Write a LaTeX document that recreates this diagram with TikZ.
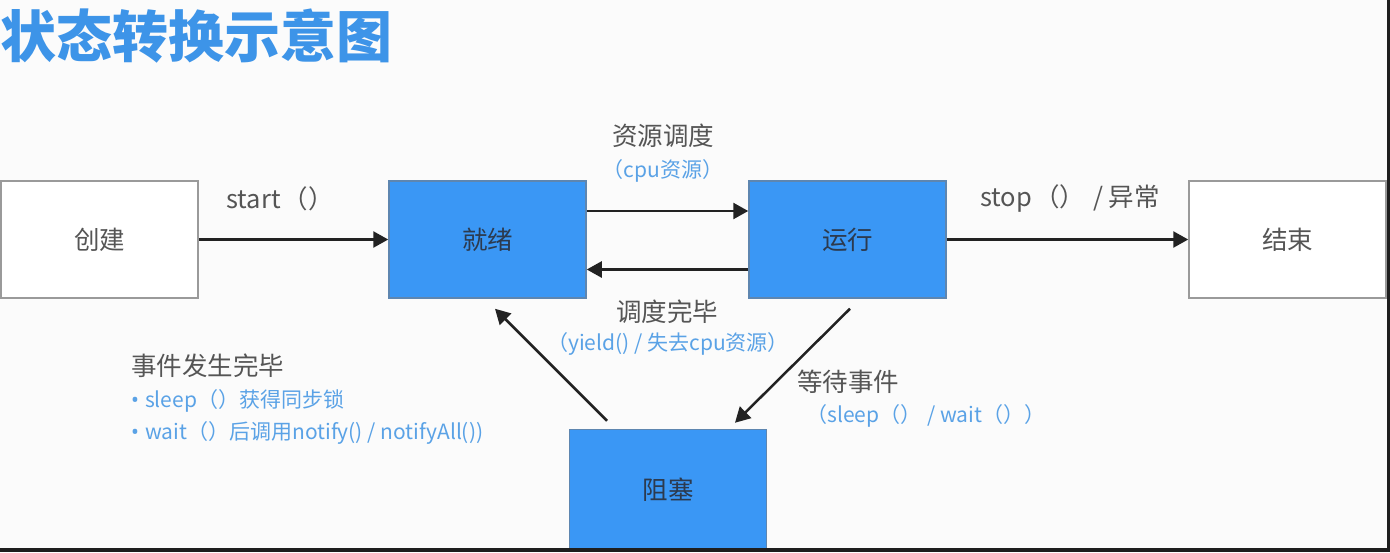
\documentclass[tikz,border=0pt]{standalone}
\usepackage{fontspec}
\setmainfont{Noto Sans CJK SC}
\newfontfamily\dotfont{Noto Sans}
\usetikzlibrary{calc,positioning,arrows.meta}
\definecolor{boxblue}{HTML}{3A97F5}
\definecolor{boxedge}{HTML}{5E86B0}
\definecolor{boxgray}{HTML}{9A9A9A}
\definecolor{boxtext}{HTML}{2C3A4E}
\definecolor{labelgray}{HTML}{555555}
\definecolor{noteblue}{HTML}{5AA2E6}
\definecolor{titleblue}{HTML}{3D94E8}
\definecolor{arrowgray}{HTML}{222222}
\definecolor{bgwhite}{HTML}{FBFBFB}
\definecolor{darkedge}{HTML}{1E1E1E}
\newcommand{\bul}{{\dotfont •}\hspace{6pt}}

\begin{document}
\begin{tikzpicture}[x=1pt, y=-1pt,
    every node/.style={font=\fontsize{25.5}{30}\selectfont, text=labelgray, inner sep=0pt},
    whitebox/.style={
      draw=boxgray, line width=1.5pt,
      fill=white,
      minimum width=197pt, minimum height=117pt
    },
    bluebox/.style={whitebox, draw=boxedge, fill=boxblue, text=boxtext},
    arr/.style={-{Triangle[length=15pt, width=16pt]}, line width=2.5pt, draw=arrowgray},
    note/.style={font=\fontsize{21}{25}\selectfont, text=noteblue}
  ]
  \fill[bgwhite] (0,0) rectangle (1390,552);
  \useasboundingbox (0,0) rectangle (1390,552);

  \node[anchor=west, font=\fontsize{56}{62}\selectfont\bfseries, text=titleblue] (title) at (0,36) {状态转换示意图};

  % states
  \node[whitebox] (chuangjian) at (99.5,239.5) {创建};
  \node[bluebox, right=189.5pt of chuangjian] (jiuxu) {就绪};
  \node[bluebox, right=161.5pt of jiuxu] (yunxing) {运行};
  \node[whitebox, right=241.5pt of yunxing] (jieshu) {结束};
  \node[bluebox, minimum height=120pt, below=130pt of jiuxu, xshift=180.5pt] (zusai) {阻塞};

  % transitions
  \draw[arr] (chuangjian) -- (jiuxu);
  \draw[arr] ([yshift=28.5pt]jiuxu.east) -- ([yshift=28.5pt]yunxing.west);
  \draw[arr] ([yshift=-30pt]yunxing.west) -- ([yshift=-30pt]jiuxu.east);
  \draw[arr] (yunxing) -- (jieshu);
  \draw[arr] ([xshift=2.5pt, yshift=-10pt]yunxing.south) -- ([xshift=67pt, yshift=6pt]zusai.north);
  \draw[arr] ([xshift=-61pt, yshift=8pt]zusai.north) -- ([xshift=7.5pt, yshift=-10pt]jiuxu.south);

  % labels
  \node (startlbl) at (280,199) {start\hspace{2pt}（）};
  \node (ziyuan) at (663,136) {资源调度};
  \node[note] (cpu) at (663,171) {（cpu资源）};
  \node (wanbi) at (667,312) {调度完毕};
  \node[note] (yield) at (668,344) {（yield() / 失去cpu资源）};
  \node (stoplbl) at (1070,199) {stop\hspace{2pt}（）\hspace{8pt}/ 异常};
  \node[anchor=west] (shijian) at (131,366) {事件发生完毕};
  \node[note, anchor=west] (sleepitem) at (131,401) {\bul sleep（）获得同步锁};
  \node[note, anchor=west] (waititem) at (131,433) {\bul wait（）后调用notify() / notifyAll())};
  \node[anchor=west] (dengdai) at (797,382) {等待事件};
  \node[note, anchor=west] (sleepwait) at (806,416) {（sleep（）\hspace{6pt}/ wait（））};

  % screen edge
  \fill[darkedge] (1387,0) rectangle (1390,552);
  \fill[darkedge] (0,548) rectangle (1390,552);
\end{tikzpicture}
\end{document}
